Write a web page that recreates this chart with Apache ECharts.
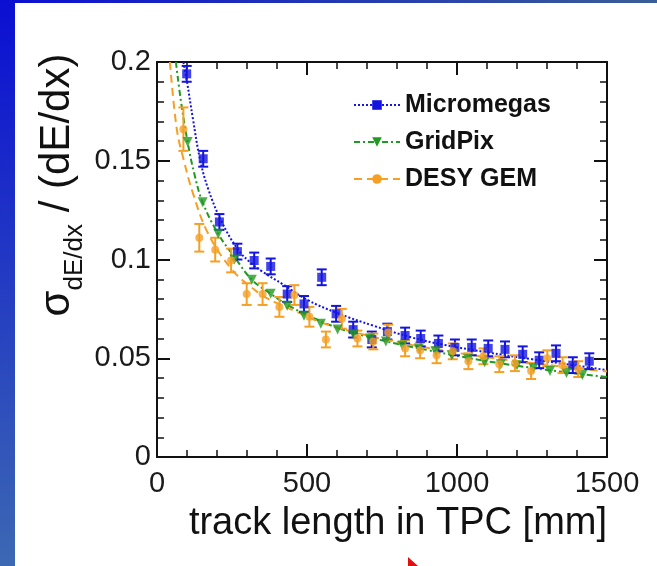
<!DOCTYPE html>
<html>
<head>
<meta charset="utf-8">
<script src="https://cdn.jsdelivr.net/npm/echarts@6/dist/echarts.min.js"></script>
<style>html,body{margin:0;padding:0;background:#fff}#main{width:657px;height:566px}</style>
</head>
<body>
<div id="main"></div>
<script>
var xTicks = [0, 500, 1000, 1500];
var yTicks = [0, 0.05, 0.1, 0.15, 0.2];

// Micromegas measurements
var mmX = [99, 154, 208, 268, 324, 379, 434, 490, 549, 597, 654, 716, 768, 827, 879, 938, 993, 1049, 1104, 1160, 1219, 1274, 1330, 1386, 1441];
var mmY = [0.194, 0.151, 0.119, 0.104, 0.0995, 0.0965, 0.0825, 0.0775, 0.091, 0.0725, 0.0645, 0.0595, 0.0635, 0.0615, 0.060, 0.0575, 0.0555, 0.0555, 0.055, 0.0545, 0.052, 0.049, 0.0525, 0.0465, 0.0485];
var mmErr = [0.004, 0.004, 0.004, 0.004, 0.004, 0.004, 0.004, 0.004, 0.004, 0.004, 0.004, 0.004, 0.004, 0.004, 0.004, 0.004, 0.004, 0.004, 0.004, 0.004, 0.004, 0.004, 0.004, 0.004, 0.004];
var mmFitX = [88, 100, 120, 143, 170, 216, 270, 311, 350, 421, 499, 599, 721, 850, 950, 1100, 1250, 1400, 1500];
var mmFitY = [0.2, 0.19, 0.171, 0.151, 0.136, 0.119, 0.105, 0.0985, 0.094, 0.0873, 0.0797, 0.073, 0.0665, 0.0605, 0.057, 0.053, 0.0495, 0.0462, 0.044];

// GridPix measurements
var gpX = [102, 152, 204, 258, 316, 379, 434, 490, 546, 602, 655, 710, 763, 818, 873, 928, 982, 1037, 1092, 1146, 1200, 1255, 1310, 1365, 1418];
var gpY = [0.1595, 0.129, 0.113, 0.1, 0.0898, 0.0826, 0.0766, 0.0715, 0.0675, 0.0645, 0.062, 0.060, 0.0585, 0.0565, 0.055, 0.0535, 0.0515, 0.0495, 0.048, 0.047, 0.0465, 0.045, 0.0435, 0.0425, 0.0415];
var gpFitX = [63, 80, 102, 125, 152, 204, 260, 316, 379, 443, 520, 600, 700, 800, 900, 1000, 1100, 1200, 1300, 1400, 1500];
var gpFitY = [0.2, 0.18, 0.1595, 0.143, 0.129, 0.113, 0.1009, 0.0898, 0.0826, 0.0763, 0.0705, 0.0655, 0.061, 0.0573, 0.0542, 0.0512, 0.0485, 0.0462, 0.0441, 0.0422, 0.0405];

// DESY GEM measurements
var dgX = [88, 141, 194, 247, 299, 352, 408, 458, 508, 563, 616, 668, 721, 771, 827, 877, 932, 986, 1038, 1088, 1141, 1193, 1247, 1301, 1352, 1404];
var dgY = [0.166, 0.111, 0.105, 0.0995, 0.0825, 0.0825, 0.076, 0.082, 0.071, 0.0595, 0.07, 0.06, 0.0585, 0.063, 0.055, 0.054, 0.0515, 0.0535, 0.0485, 0.051, 0.047, 0.0475, 0.0435, 0.05, 0.0465, 0.0445];
var dgErr = [0.011, 0.007, 0.006, 0.006, 0.0055, 0.0055, 0.005, 0.005, 0.005, 0.004, 0.005, 0.004, 0.004, 0.004, 0.004, 0.004, 0.004, 0.004, 0.004, 0.004, 0.004, 0.004, 0.004, 0.004, 0.004, 0.004];
var dgFitX = [43, 66, 88, 121, 171, 249, 310, 360, 421, 466, 550, 650, 750, 850, 950, 1050, 1150, 1250, 1350, 1450, 1500];
var dgFitY = [0.2, 0.166, 0.151, 0.133, 0.113, 0.095, 0.0865, 0.081, 0.0765, 0.0735, 0.068, 0.0635, 0.0598, 0.0567, 0.054, 0.0516, 0.0495, 0.0476, 0.0458, 0.0441, 0.0433];

var BLUE = '#1414e0', GREEN = '#1f9a22', ORANGE = '#f5a025';
var FONT = 'Liberation Sans, Arial, sans-serif';

function pairs(xs, ys) {
    return xs.map(function (x, i) { return [x, ys[i]]; });
}

function errorBars(name, xs, ys, errs, color) {
    return {
        type: 'custom',
        name: name,
        z: 3,
        data: xs.map(function (x, i) { return [x, ys[i] - errs[i], ys[i] + errs[i]]; }),
        encode: {x: 0, y: [1, 2]},
        renderItem: function (params, api) {
            var lo = api.coord([api.value(0), api.value(1)]);
            var hi = api.coord([api.value(0), api.value(2)]);
            var w = 5;
            var st = {stroke: color, lineWidth: 2};
            return {
                type: 'group',
                children: [
                    {type: 'line', shape: {x1: lo[0], y1: lo[1], x2: hi[0], y2: hi[1]}, style: st},
                    {type: 'line', shape: {x1: lo[0] - w, y1: lo[1], x2: lo[0] + w, y2: lo[1]}, style: st},
                    {type: 'line', shape: {x1: hi[0] - w, y1: hi[1], x2: hi[0] + w, y2: hi[1]}, style: st}
                ]
            };
        }
    };
}

function fitLine(name, xs, ys, color, dash, symbol, size, rot) {
    return {
        type: 'line',
        name: name,
        data: pairs(xs, ys),
        smooth: 0.4,
        showSymbol: false,
        symbol: symbol,
        symbolSize: size,
        symbolRotate: rot,
        lineStyle: {color: color, width: 2, type: dash},
        itemStyle: {color: color},
        z: 2
    };
}

function points(name, xs, ys, color, symbol, size, rot) {
    return {
        type: 'scatter',
        name: name,
        data: pairs(xs, ys),
        symbol: symbol,
        symbolSize: size,
        symbolRotate: rot,
        itemStyle: {color: color},
        z: 4
    };
}

var axisLine = {show: true, onZero: false, lineStyle: {color: '#111', width: 2}};
var axisTick = {show: true, inside: true, length: 13, lineStyle: {color: '#111', width: 2}};
var minorTick = {show: true, splitNumber: 5, length: 7, lineStyle: {color: '#111', width: 1.5}};

function xAxis(pos, labels) {
    return {
        type: 'value', position: pos,
        min: xTicks[0], max: xTicks[xTicks.length - 1], interval: xTicks[1] - xTicks[0],
        axisLine: axisLine, axisTick: axisTick, minorTick: minorTick,
        splitLine: {show: false},
        axisLabel: {show: labels, fontSize: 29, color: '#1a1a1a', fontFamily: FONT, margin: 12,
            formatter: function (v) { return String(v); }}
    };
}

function yAxis(pos, labels) {
    return {
        type: 'value', position: pos,
        min: yTicks[0], max: yTicks[yTicks.length - 1], interval: 0.05,
        axisLine: axisLine, axisTick: axisTick, minorTick: minorTick,
        splitLine: {show: false},
        axisLabel: {show: labels, fontSize: 29, color: '#1a1a1a', fontFamily: FONT, margin: 6}
    };
}

var myChart = echarts.init(document.getElementById('main'));

var option = {
    backgroundColor: '#fff',
    animation: false,
    grid: {left: 157, right: 50, top: 62, bottom: 109},
    xAxis: [xAxis('bottom', true), xAxis('top', false)],
    yAxis: [yAxis('left', true), yAxis('right', false)],
    legend: {
        orient: 'vertical',
        left: 353,
        top: 92,
        padding: 0,
        itemWidth: 46,
        itemHeight: 12,
        itemGap: 11,
        data: ['Micromegas', 'GridPix', 'DESY GEM'],
        textStyle: {fontSize: 25, fontWeight: 'bold', color: '#111', fontFamily: FONT, lineHeight: 26}
    },
    graphic: [
        {
            type: 'rect', silent: true, z: 100,
            shape: {x: 0, y: 0, width: 15, height: 566},
            style: {fill: new echarts.graphic.LinearGradient(0, 0, 0, 1, [
                {offset: 0, color: '#0b0fd2'}, {offset: 1, color: '#3c68b3'}])}
        },
        {
            type: 'rect', silent: true, z: 100,
            shape: {x: 0, y: 0, width: 657, height: 3},
            style: {fill: new echarts.graphic.LinearGradient(0, 0, 1, 0, [
                {offset: 0, color: '#0b0fd2'}, {offset: 1, color: '#3a5e96'}])}
        },
        {
            type: 'polygon', silent: true, z: 100,
            shape: {points: [[408, 557], [408, 566], [418, 566]]},
            style: {fill: '#e01010'}
        },
        {
            type: 'text', z: 100,
            x: 62, y: 185,
            rotation: Math.PI / 2,
            style: {
                text: '{a|σ}{b|dE/dx}{a| / (dE/dx)}',
                align: 'center',
                verticalAlign: 'middle',
                fill: '#111',
                rich: {
                    a: {fontSize: 42, fontFamily: FONT, fill: '#111', verticalAlign: 'bottom', padding: [0, 0, 9, 0]},
                    b: {fontSize: 26, fontFamily: FONT, fill: '#111', verticalAlign: 'bottom'}
                }
            }
        },
        {
            type: 'text', z: 100,
            x: 607, y: 524,
            style: {
                text: 'track length in TPC [mm]',
                align: 'right',
                verticalAlign: 'middle',
                fontSize: 38,
                fontFamily: FONT,
                fill: '#111'
            }
        }
    ],
    series: [
        fitLine('Micromegas', mmFitX, mmFitY, BLUE, [2, 2], 'rect', 10, 0),
        fitLine('GridPix', gpFitX, gpFitY, GREEN, [6, 3, 2, 3], 'triangle', 11, 180),
        fitLine('DESY GEM', dgFitX, dgFitY, ORANGE, [8, 5], 'circle', 9, 0),
        errorBars('mm err', mmX, mmY, mmErr, BLUE),
        errorBars('dg err', dgX, dgY, dgErr, ORANGE),
        points('mm pts', mmX, mmY, BLUE, 'rect', 9, 0),
        points('gp pts', gpX, gpY, GREEN, 'triangle', 10, 180),
        points('dg pts', dgX, dgY, ORANGE, 'circle', 8, 0)
    ]
};
myChart.setOption(option);
</script>
</body>
</html>
